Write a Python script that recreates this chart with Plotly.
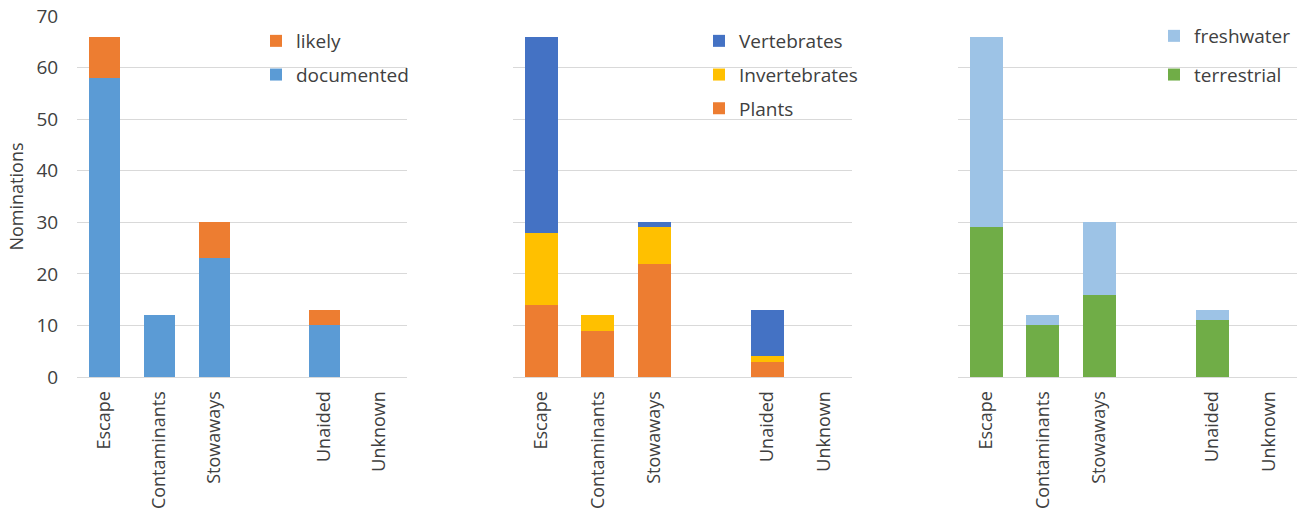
import plotly.graph_objects as go

categories = ["Escape", "Contaminants", "Stowaways", " ", "Unaided", "Unknown"]

# Panel 1
documented = [58, 12, 23, 0, 10, 0]
likely = [8, 0, 7, 0, 3, 0]

# Panel 2
plants = [14, 9, 22, 0, 3, 0]
invertebrates = [14, 3, 7, 0, 1, 0]
vertebrates = [38, 0, 1, 0, 9, 0]

# Panel 3
terrestrial = [29, 10, 16, 0, 11, 0]
freshwater = [37, 2, 14, 0, 2, 0]

W, H = 1306, 515
FONT = "Open Sans"
TXT = "#404040"
GRID = "#d9d9d9"

fig = go.Figure()

def add(name, vals, color, xa, ya, leg, rank):
    fig.add_trace(go.Bar(
        x=categories, y=vals, name=name, marker=dict(color=color, line=dict(width=0)),
        xaxis=xa, yaxis=ya, legend=leg, legendgroup=name, legendrank=rank,
    ))

add("documented", documented, "#5B9BD5", "x", "y", "legend", 2)
add("likely", likely, "#ED7D31", "x", "y", "legend", 1)
add("Plants", plants, "#ED7D31", "x2", "y2", "legend2", 3)
add("Invertebrates", invertebrates, "#FFC000", "x2", "y2", "legend2", 2)
add("Vertebrates", vertebrates, "#4472C4", "x2", "y2", "legend2", 1)
add("terrestrial", terrestrial, "#70AD47", "x3", "y3", "legend3", 2)
add("freshwater", freshwater, "#9DC3E6", "x3", "y3", "legend3", 1)

# pixel plot areas
doms = [(77, 407), (513, 852), (958, 1297)]

def fx(px):
    return px / W

def xax(i):
    a, b = doms[i]
    return dict(domain=[fx(a), fx(b)], type="category", categoryorder="array",
                categoryarray=categories, tickangle=-90, showgrid=False,
                ticks="outside", ticklen=6, tickcolor="rgba(0,0,0,0)",
                showline=False, zeroline=False,
                tickfont=dict(family=FONT, size=18, color=TXT))

def yax(anchor, show):
    return dict(domain=[0, 1], range=[0, 70.02], tickvals=[0, 10, 20, 30, 40, 50, 60, 70],
                showgrid=True, gridcolor=GRID,
                gridwidth=1, zeroline=True, zerolinecolor=GRID, zerolinewidth=1,
                showticklabels=show, anchor=anchor,
                ticks="outside", ticklen=14, tickcolor="rgba(0,0,0,0)",
                tickfont=dict(family=FONT, size=19, color=TXT), fixedrange=True)

top_px, bot_px = 16, 377
top = top_px
bot = H - bot_px
ph = H - top - bot

def ly(px):
    return (bot_px - px) / ph

legfont = dict(family=FONT, size=19, color=TXT)

def leg(xpx, ypx, gap):
    return dict(x=fx(xpx), y=ly(ypx), xref="paper", yref="paper",
                bgcolor="rgba(0,0,0,0)", font=legfont, traceorder="grouped",
                tracegroupgap=gap, xanchor="left", yanchor="top", itemwidth=30)

fig.update_layout(
    width=W, height=H,
    margin=dict(l=0, r=0, t=top, b=bot, autoexpand=False),
    paper_bgcolor="white", plot_bgcolor="white",
    barmode="stack", bargap=0.42,
    showlegend=True,
    xaxis=xax(0), xaxis2=xax(1), xaxis3=xax(2),
    yaxis=dict(**yax("x", True),
               title=dict(text="Nominations", font=dict(family=FONT, size=18, color=TXT), standoff=8)),
    yaxis2=yax("x2", False), yaxis3=yax("x3", False),
    legend=leg(256, 22, 6),
    legend2=leg(699, 22, 6),
    legend3=leg(1154, 17, 11),
)

fig.write_html("out.html", config={"displayModeBar": False},
               post_script="document.body.style.margin='0';")
